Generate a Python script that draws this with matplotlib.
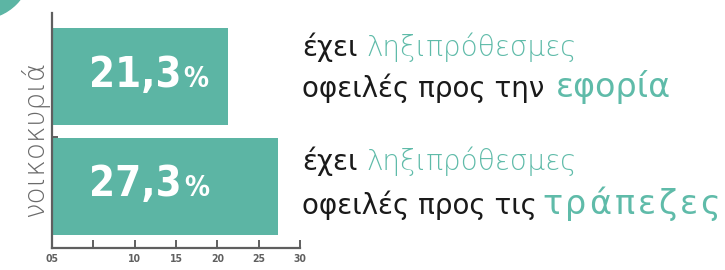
import matplotlib
matplotlib.use("Agg")
import matplotlib.pyplot as plt
from matplotlib.patches import Circle

# δεδομένα
categories = ["τράπεζες", "εφορία"]      # κάτω, πάνω
values = [27.3, 21.3]
value_labels = ["27,3", "21,3"]
xticks = [0, 5, 10, 15, 20, 25, 30]
xtick_labels = ["05", "", "10", "15", "20", "25", "30"]
ylabel = "νοικοκυριά"

TEAL = "#5cb5a4"
TEAL_TXT = "#5fbba9"
GRAY = "#5f5f5f"
COND = dict(family="DejaVu Sans", stretch="condensed", weight="bold")

fig = plt.figure(figsize=(7.25, 2.7), dpi=100)
ax = fig.add_axes([52 / 725, 22 / 270, 248 / 725, 235 / 270])

ypos = list(range(len(values)))
ax.barh(ypos, values, height=0.886, color=TEAL)

ax.set_xlim(0, 30)
ax.set_ylim(-0.562, 1.584)
ax.set_xticks(xticks)
ax.set_xticklabels(xtick_labels)
ax.set_yticks([0.45])
ax.set_yticklabels([])
for s in ["top", "right"]:
    ax.spines[s].set_visible(False)
for s in ["left", "bottom"]:
    ax.spines[s].set_color(GRAY)
    ax.spines[s].set_linewidth(1.6)
ax.tick_params(axis="x", direction="in", length=6, width=1.4, color=GRAY,
               labelsize=7.5, labelcolor=GRAY, pad=4)
ax.tick_params(axis="y", direction="in", length=4, width=1.4, color=GRAY)
for lab in ax.get_xticklabels():
    lab.set_family("DejaVu Sans")
    lab.set_stretch("condensed")
    lab.set_fontweight("bold")

fig.text(35 / 725, 1 - 139 / 270, ylabel, rotation=90, ha="center", va="center",
         fontsize=20, color="#6a6a6a", family="DejaVu Sans", weight=200)

# τιμές μέσα στις μπάρες
fig.canvas.draw()
renderer = fig.canvas.get_renderer()
for y, lab in zip(ypos, value_labels):
    t = ax.text(4.5, y - 0.09, lab, ha="left", va="baseline", color="white",
                fontsize=30, **COND)
    bb = t.get_window_extent(renderer)
    x1 = ax.transData.inverted().transform((bb.x1 + 2, 0))[0]
    ax.text(x1, y - 0.09, "%", ha="left", va="baseline", color="white",
            fontsize=20, **COND)


def runs_text(x_px, y_px, runs):
    """γράφει κομμάτια κειμένου το ένα μετά το άλλο (x, y σε pixel από πάνω)"""
    x = x_px
    for txt, color, size, wt, track, gap in runs:
        for ch in (list(txt) if track else [txt]):
            t = fig.text(x / 725, 1 - y_px / 270, ch, ha="left", va="baseline",
                         color=color, fontsize=size, family="DejaVu Sans",
                         weight=wt)
            bb = t.get_window_extent(renderer)
            x = bb.x1 + track
        x += gap


runs_text(302, 56, [("έχει", "#1a1a1a", 20, "normal", 0, 9),
                    ("ληξιπρόθεσμες", TEAL_TXT, 20, 200, 0, 0)])
runs_text(302, 97, [("οφειλές προς την", "#1a1a1a", 20, "normal", 0, 12),
                    ("εφορία", TEAL_TXT, 24, "normal", 0, 0)])
runs_text(302, 170, [("έχει", "#1a1a1a", 20, "normal", 0, 9),
                     ("ληξιπρόθεσμες", TEAL_TXT, 20, 200, 0, 0)])
runs_text(302, 214, [("οφειλές προς τις", "#1a1a1a", 20, "normal", 0, 5),
                     ("τράπεζες", TEAL_TXT, 24, "normal", 3, 0)])

fig.patches.append(Circle((-20, 302), 51, transform=None, color=TEAL))

fig.savefig("out.png", dpi=100)
